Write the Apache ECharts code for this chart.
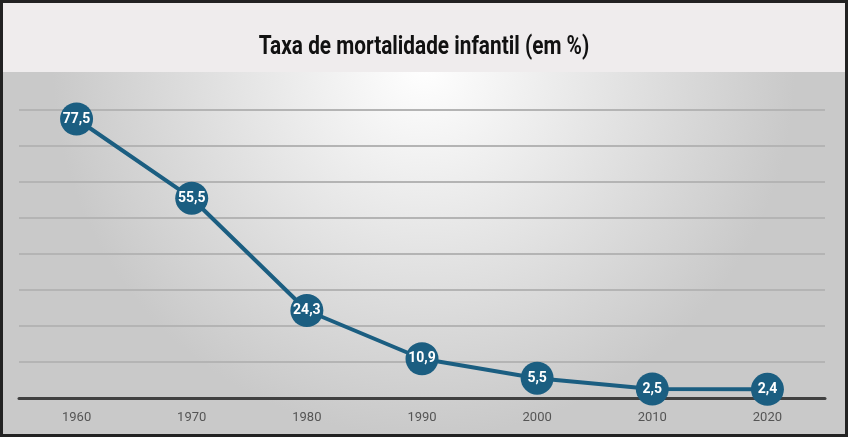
<!DOCTYPE html>
<html>
<head>
<meta charset="utf-8">
<script src="https://cdn.jsdelivr.net/npm/echarts@6/dist/echarts.min.js"></script>
<style>
  html, body { margin: 0; padding: 0; background: #fff; }
  #chart { width: 848px; height: 437px; }
</style>
</head>
<body>
<div id="chart"></div>
<script>
// dados do gráfico
var anos = ['1960', '1970', '1980', '1990', '2000', '2010', '2020']
var taxa = [77.5, 55.5, 24.3, 10.9, 5.5, 2.5, 2.4]
var titulo = 'Taxa de mortalidade infantil (em %)'

var chart = echarts.init(document.getElementById('chart'))
var fonte = 'Roboto, sans-serif'

var option = {
  backgroundColor: {
    type: 'radial', x: 0.5, y: 0.15, r: 0.85,
    colorStops: [
      { offset: 0, color: '#ffffff' },
      { offset: 1, color: '#c9c9c9' }
    ]
  },
  graphic: [
    {
      type: 'rect', z: -1,
      shape: { x: 0, y: 0, width: 848, height: 72 },
      style: { fill: '#efeced' }
    },
    {
      // titulo condensado
      type: 'text', z: 10,
      x: 424, y: 47, scaleX: 0.8,
      style: {
        text: titulo, fill: '#111',
        font: 'bold 26px Roboto, sans-serif',
        align: 'center', verticalAlign: 'middle'
      }
    },
    {
      type: 'rect', z: 100,
      shape: { x: 1.5, y: 1.5, width: 845, height: 434 },
      style: { fill: 'none', stroke: '#222', lineWidth: 3 }
    }
  ],
  grid: { left: 19, right: 23, top: 110, bottom: 39 },
  xAxis: {
    type: 'category',
    data: anos,
    boundaryGap: true,
    axisTick: { show: false },
    axisLine: { lineStyle: { color: '#404040', width: 3 } },
    axisLabel: { color: '#555', fontSize: 13, fontFamily: fonte, margin: 13 }
  },
  yAxis: {
    type: 'value',
    min: 0, max: 80, interval: 10,
    axisLabel: { show: false },
    axisLine: { show: false },
    axisTick: { show: false },
    splitLine: { lineStyle: { color: '#b4b4b4', width: 2 } }
  },
  series: [
    {
      type: 'line',
      data: taxa,
      symbol: 'circle',
      symbolSize: 33,
      lineStyle: { color: '#1b5e81', width: 4 },
      itemStyle: { color: '#1b5e81' },
      label: {
        show: true,
        position: 'inside',
        color: '#fff',
        fontFamily: fonte,
        fontWeight: 'bold',
        fontSize: 14,
        formatter: function (p) { return String(p.value).replace('.', ',') }
      }
    }
  ]
}
chart.setOption(option)
</script>
</body>
</html>
